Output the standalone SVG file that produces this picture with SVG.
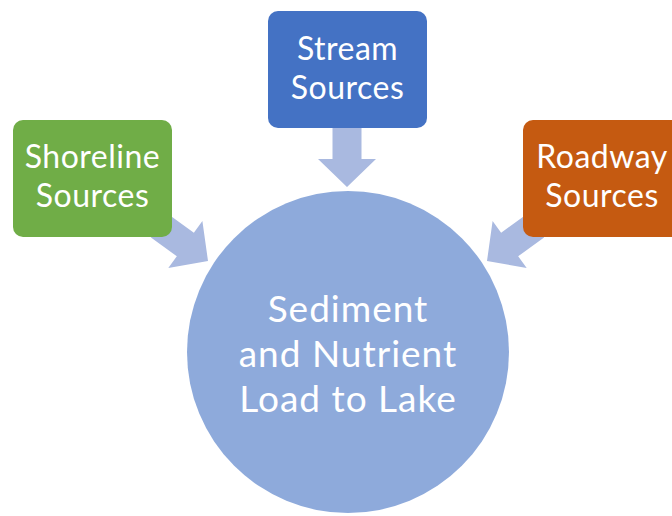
<svg xmlns="http://www.w3.org/2000/svg" width="672" height="516" viewBox="0 0 672 516">
  <defs>
    <style>
      .arrow { fill: #a9b9e0; }
      .box-text { font-family: Lato, "Open Sans", "Liberation Sans", sans-serif; font-size: 32px; fill: #ffffff; text-anchor: middle; letter-spacing: 0.5px; }
      .hub-text { font-family: Lato, "Open Sans", "Liberation Sans", sans-serif; font-size: 37px; fill: #ffffff; text-anchor: middle; letter-spacing: 1px; }
    </style>
    <polygon id="blockArrow" points="-60,-14.5 -28,-14.5 -28,-29 0,0 -28,29 -28,14.5 -60,14.5"/>
  </defs>
  <rect width="672" height="516" fill="#ffffff"/>

  <g id="connectors">
    <use href="#blockArrow" class="arrow" transform="translate(347,187) rotate(90)"/>
    <use href="#blockArrow" class="arrow" transform="translate(208,261) rotate(36)"/>
    <use href="#blockArrow" class="arrow" transform="translate(487,261) rotate(144)"/>
  </g>

  <g id="hub">
    <circle cx="348" cy="352" r="161" fill="#8eaadb"/>
    <text class="hub-text" x="348" y="322">Sediment</text>
    <text class="hub-text" x="348" y="367">and Nutrient</text>
    <text class="hub-text" x="348" y="412">Load to Lake</text>
  </g>

  <g id="stream">
    <rect x="268" y="11" width="159" height="117" rx="10" fill="#4472c4"/>
    <text class="box-text" x="347.5" y="60">Stream</text>
    <text class="box-text" x="347.5" y="99">Sources</text>
  </g>

  <g id="shoreline">
    <rect x="13" y="120" width="159" height="117" rx="10" fill="#70ad47"/>
    <text class="box-text" x="92.5" y="168">Shoreline</text>
    <text class="box-text" x="92.5" y="207">Sources</text>
  </g>

  <g id="roadway">
    <rect x="523" y="120" width="159" height="117" rx="10" fill="#c55a11"/>
    <text class="box-text" x="602" y="168">Roadway</text>
    <text class="box-text" x="602" y="207">Sources</text>
  </g>
</svg>
